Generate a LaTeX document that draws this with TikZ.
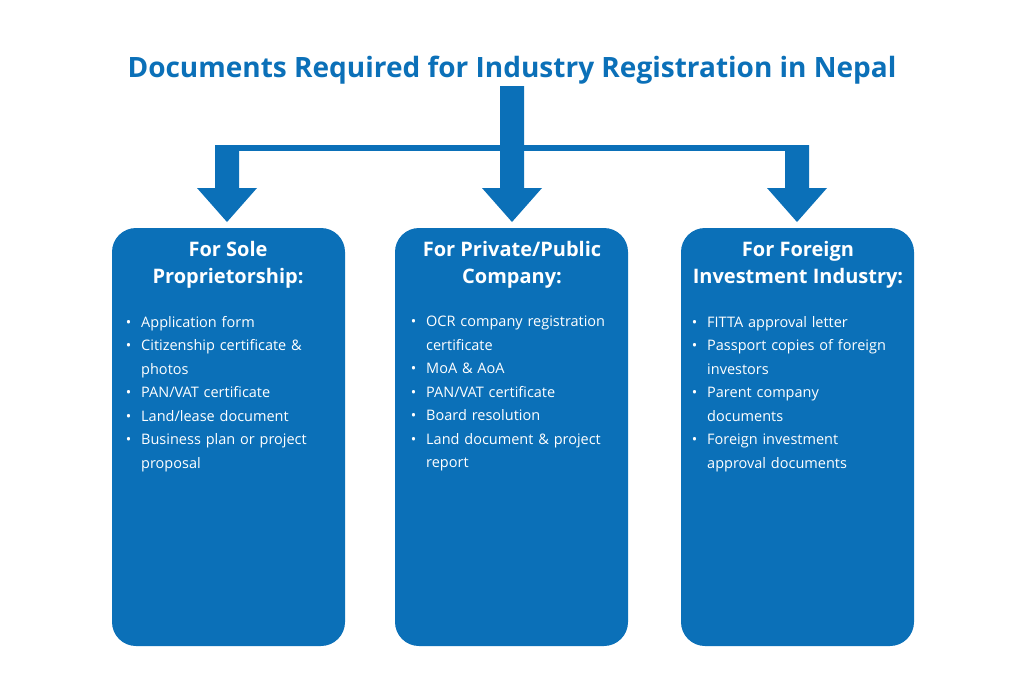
\documentclass[tikz,border=0pt]{standalone}
\usepackage{fontspec}
\setmainfont{Open Sans}
\definecolor{nblue}{HTML}{0B70B8}
\begin{document}
\begin{tikzpicture}[x=1pt,y=-1pt,
  box/.style={fill=nblue,rounded corners=24pt},
  head/.style={text=white,font=\bfseries\fontsize{20}{27}\selectfont,align=center,anchor=north},
  items/.style={text=white,font=\fontsize{14.5}{23.5}\selectfont,anchor=north west,text width=190pt,inner sep=0pt}]
\useasboundingbox (0,0) rectangle (1024,683);
\node[text=nblue,font=\bfseries\fontsize{28}{32}\selectfont] (title) at (512,70) {Documents Required for Industry Registration in Nepal};
% connector bar
\fill[nblue] (215,145) rectangle (809,151);
\foreach \cx/\top in {227/145,512/86,797/145}{
  \fill[nblue] (\cx-12,\top) -- (\cx+12,\top) -- (\cx+12,188) -- (\cx+30,188) -- (\cx,222) -- (\cx-30,188) -- (\cx-12,188) -- cycle;
}
\fill[box] (112,228) rectangle (345,646);
\fill[box] (395,228) rectangle (628,646);
\fill[box] (681,228) rectangle (914,646);
\node[head] (h1) at (228,238) {For Sole\\Proprietorship:};
\node[head] (h2) at (512,238) {For Private/Public\\Company:};
\node[head] (h3) at (798,238) {For Foreign\\Investment Industry:};
\newcommand{\bul}{\makebox[0pt][r]{\textbullet\hspace{10pt}}}
\node[items] (l1) at (141,316) {\bul Application form\\ \bul Citizenship certificate \&\\photos\\ \bul PAN/VAT certificate\\ \bul Land/lease document\\ \bul Business plan or project\\proposal};
\node[items] (l2) at (426,316) {\bul OCR company registration\\certificate\\ \bul MoA \& AoA\\ \bul PAN/VAT certificate\\ \bul Board resolution\\ \bul Land document \& project\\report};
\node[items] (l3) at (707,316) {\bul FITTA approval letter\\ \bul Passport copies of foreign\\investors\\ \bul Parent company\\documents\\ \bul Foreign investment\\approval documents};
\end{tikzpicture}
\end{document}
